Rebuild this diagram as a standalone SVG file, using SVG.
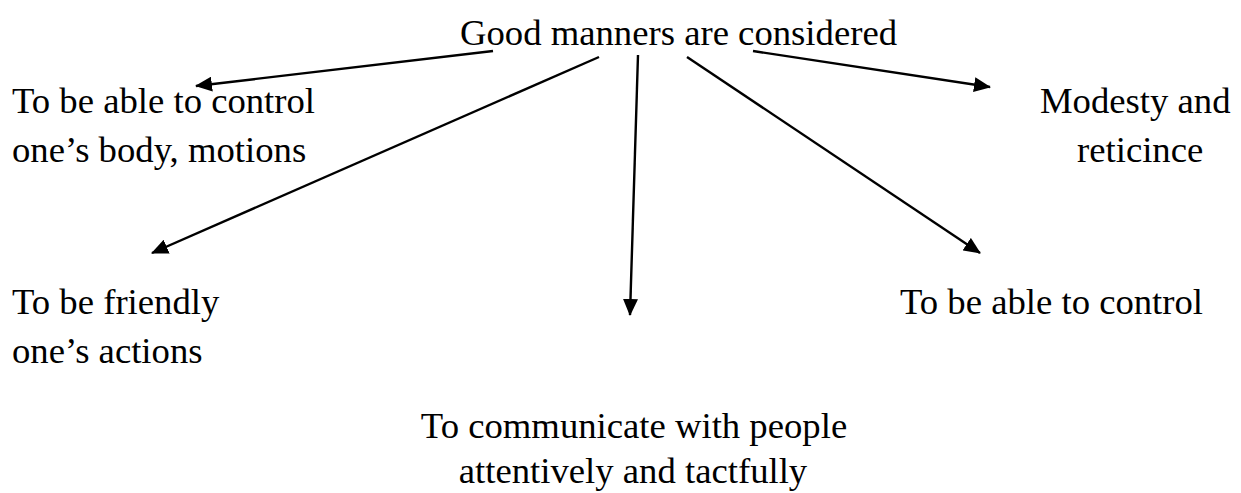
<svg xmlns="http://www.w3.org/2000/svg" width="1241" height="493" viewBox="0 0 1241 493">
  <style>
    text { font-family: "Liberation Serif", "Times New Roman", serif; font-size: 36.7px; fill: #000; }
    .c { text-anchor: middle; }
    .edge { stroke: #000; stroke-width: 2.4; fill: none; marker-end: url(#ah); }
  </style>
  <defs>
    <marker id="ah" viewBox="0 0 17 15" refX="16" refY="7.5" markerWidth="17" markerHeight="15" markerUnits="userSpaceOnUse" orient="auto">
      <path d="M0,0 L17,7.5 L0,15 Z" fill="#000"/>
    </marker>
  </defs>
  <rect width="1241" height="493" fill="#fff"/>

  <g id="root">
    <text x="460" y="45">Good manners are considered</text>
  </g>
  <g id="control-body">
    <text x="12" y="113">To be able to control</text>
    <text x="12" y="162">one’s body, motions</text>
  </g>
  <g id="modesty">
    <text x="1040" y="113">Modesty and</text>
    <text x="1077" y="162">reticince</text>
  </g>
  <g id="friendly">
    <text x="12" y="314">To be friendly</text>
    <text x="12" y="363">one’s actions</text>
  </g>
  <g id="control">
    <text x="900" y="314">To be able to control</text>
  </g>
  <g id="communicate">
    <text class="c" x="634" y="438">To communicate with people</text>
    <text class="c" x="633" y="483">attentively and tactfully</text>
  </g>

  <g id="connectors">
    <line class="edge" x1="493" y1="51" x2="196" y2="86"/>
    <line class="edge" x1="753" y1="51" x2="990" y2="87"/>
    <line class="edge" x1="599" y1="57" x2="152" y2="253"/>
    <line class="edge" x1="638" y1="55" x2="630" y2="315"/>
    <line class="edge" x1="687" y1="57" x2="980" y2="253"/>
  </g>
</svg>
